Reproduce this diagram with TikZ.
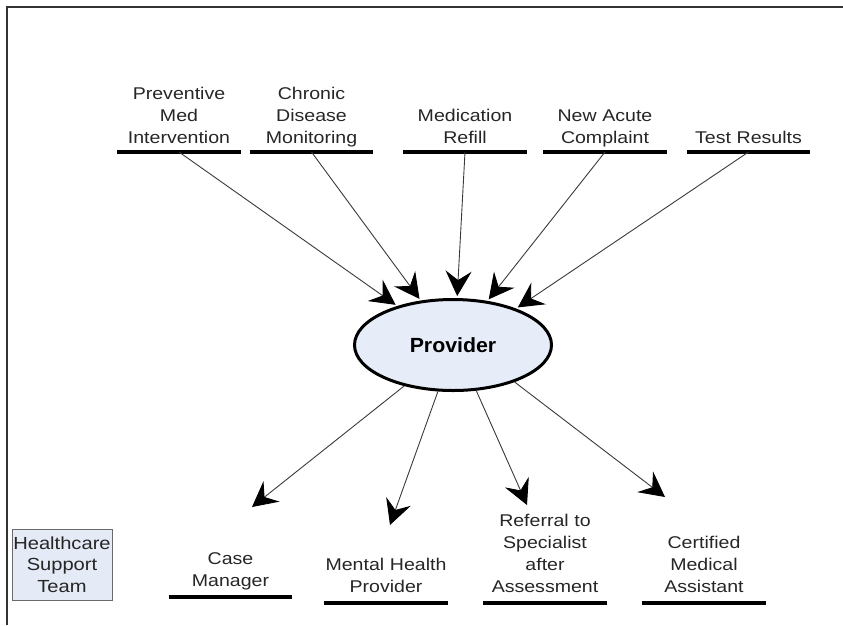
\documentclass[tikz,border=0pt]{standalone}
\usepackage{fontspec}
\setmainfont{Liberation Sans}[FakeStretch=1.15]
\newfontfamily\provfont{Liberation Sans}[FakeStretch=1.04]
\usetikzlibrary{arrows.meta,shapes.geometric}

\definecolor{provfill}{HTML}{E6ECF8}
\definecolor{teamfill}{HTML}{E4EAF6}
\definecolor{linegray}{HTML}{3A3A3A}
\definecolor{boxgray}{HTML}{6A6A6A}

\begin{document}
\begin{tikzpicture}[x=1pt,y=-1pt,
  txt/.style={font=\fontsize{17}{22}\selectfont, text=black!85},
  topic/.style={txt, text width=123pt, align=center, inner xsep=0pt,
                inner ysep=1.4pt, anchor=south},
  member/.style={topic, inner ysep=4pt},
  uline/.style={line width=3.2pt, black},
  tip/.style={-{Stealth[length=25pt,width=26pt,inset=9pt,black]}},
  feed/.style={draw=linegray, line width=0.9pt, tip, shorten >=2pt},
  task/.style={draw=linegray, line width=0.9pt, tip},
  frame/.style={line width=2pt, draw=black!80},
]
\useasboundingbox (0,0) rectangle (843,625);

% page frame
\draw[frame] (6.5,625) -- (6.5,7) -- (843,7);

% central provider
\node[ellipse, draw=black, line width=3pt, fill=provfill,
      minimum width=197pt, minimum height=91pt, inner sep=0pt,
      font=\provfont\bfseries\fontsize{20.5}{24}\selectfont]
  (prov) at (453,345) {Provider};

% incoming visit types
\node[topic] (prev) at (179,152)   {Preventive\strut\\Med\strut\\Intervention\strut};
\node[topic] (chron) at (311.5,152){Chronic\strut\\Disease\strut\\Monitoring\strut};
\node[topic] (refill) at (465,152) {Medication\strut\\Refill\strut};
\node[topic] (acute) at (605,152)  {New Acute\strut\\Complaint\strut};
\node[topic] (tests) at (748.5,152){Test Results\strut};

\foreach \n in {prev,chron,refill,acute,tests}
  \draw[uline] (\n.south west) -- (\n.south east);

\draw[feed] (prev.south)   -- (prov.145);
\draw[feed] (chron.south)  -- (prov.126);
\draw[feed] (refill.south) -- (prov.85);
\draw[feed] (acute.south)  -- (prov.52);
\draw[feed] (tests.south)  -- (prov.30);

% support team members
\node[member] (case) at (230.5,597) {Case\strut\\Manager\strut};
\node[member] (mental) at (386,603) {Mental Health\strut\\Provider\strut};
\node[member] (refer) at (545,603)  {Referral to\strut\\Specialist\strut\\after\strut\\Assessment\strut};
\node[member] (cma) at (704,603)    {Certified\strut\\Medical\strut\\Assistant\strut};

\foreach \n in {case,mental,refer,cma}
  \draw[uline] (\n.south west) -- (\n.south east);

\coordinate (caseEnd)   at (252,507);
\coordinate (mentalEnd) at (390,525);
\coordinate (referEnd)  at (527,505);
\coordinate (cmaEnd)    at (665,497);

\draw[task] (prov.220) -- (caseEnd);
\draw[task] (prov.252) -- (mentalEnd);
\draw[task] (prov.297) -- (referEnd);
\draw[task] (prov.329) -- (cmaEnd);

% legend box
\node[draw=boxgray, line width=1pt, fill=teamfill, minimum width=100pt,
      minimum height=71pt, inner sep=0pt, align=center,
      font=\fontsize{17.5}{21.5}\selectfont, text=black!85]
  (team) at (62,564.5) {Healthcare\\Support\\Team};
\end{tikzpicture}
\end{document}
